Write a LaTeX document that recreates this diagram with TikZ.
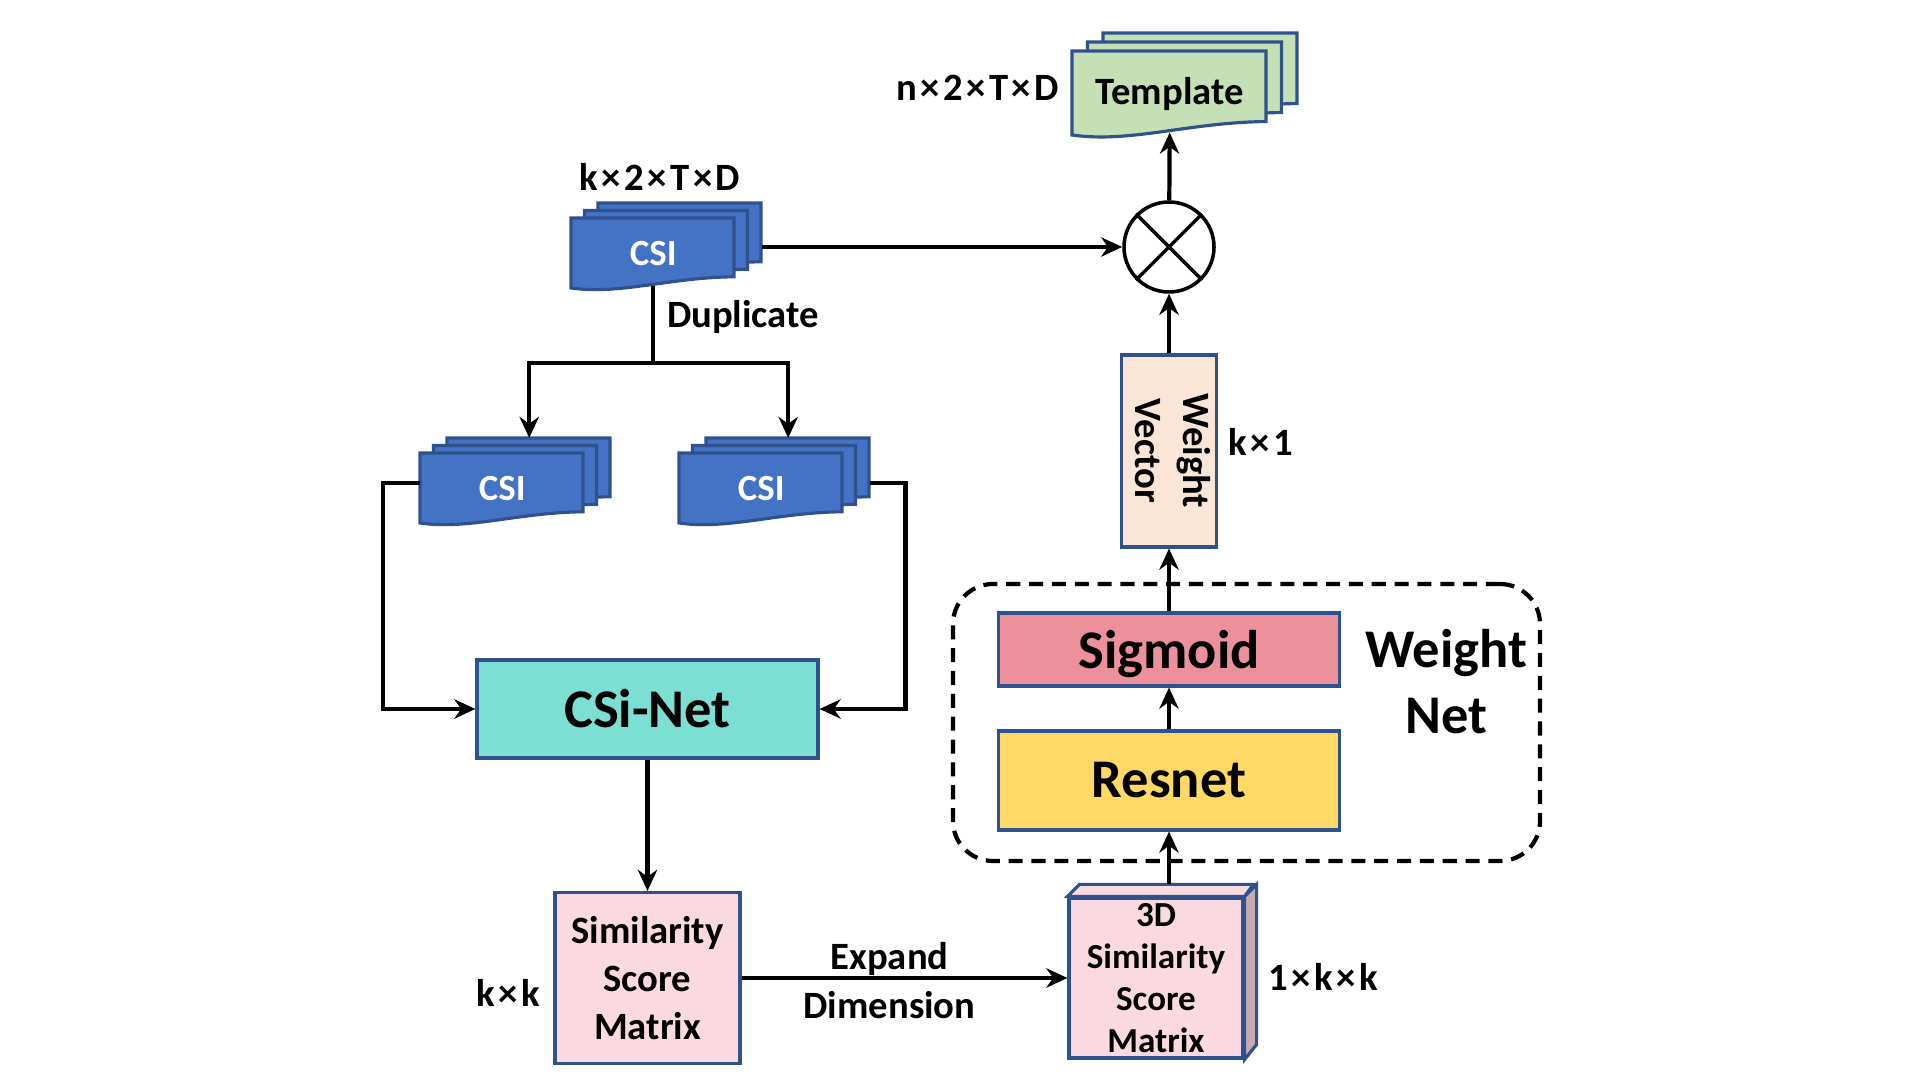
\documentclass[tikz,border=0pt]{standalone}
\usepackage{fontspec}
\setmainfont{Carlito}
\definecolor{CsiBlue}{RGB}{68,114,196}
\definecolor{EdgeBlue}{RGB}{47,82,143}
\definecolor{TplGreen}{RGB}{197,224,180}
\definecolor{NetCyan}{RGB}{124,223,212}
\definecolor{SimPink}{RGB}{250,218,224}
\definecolor{SimSide}{RGB}{202,170,178}
\definecolor{SigRose}{RGB}{236,145,155}
\definecolor{ResYellow}{RGB}{255,217,102}
\definecolor{VecPeach}{RGB}{251,229,214}
\usetikzlibrary{arrows.meta,positioning,calc}

\newcommand{\tagfont}{\fontsize{11}{13.6}\selectfont\bfseries}
\newcommand{\boxfont}{\fontsize{15.5}{19}\selectfont\bfseries}
\newcommand{\tms}{\kern0.09em×\kern0.09em}

% three stacked sheets: name, front top-left, width, height, style, step x, step y, text
\newcommand{\docstack}[8]{%
  \foreach \k in {2,1,0}{%
    \draw[#5, shift={(#2)}, xshift=\k*#6cm, yshift=\k*#7cm]
      (0,0) -- (#3,0) -- (#3,-0.84*#4)
      .. controls (0.6*#3,-0.85*#4) and (0.3*#3,-1.1*#4) .. (0,-#4) -- cycle;
    \node[inner sep=0, minimum width=#3cm, minimum height=#4cm, anchor=north west,
      shift={(#2)}, xshift=\k*#6cm, yshift=\k*#7cm] (#1-\k) at (0,0) {};
  }%
  \node[#5, draw=none, fill=none, inner sep=0] (#1) at (#1-0.center) {#8};
  \coordinate (#1-bot) at ([yshift=0.045*#4cm]#1-0.south);
}

\begin{document}
\begin{tikzpicture}[
    csisheet/.style={draw=EdgeBlue, fill=CsiBlue, line width=0.9pt, text=white, font=\fontsize{10.5}{12}\selectfont\bfseries},
    tplsheet/.style={draw=EdgeBlue, fill=TplGreen, line width=0.9pt, font=\fontsize{11}{13}\selectfont\bfseries},
    block/.style={draw=EdgeBlue, line width=0.9pt, inner sep=0, align=center},
    link/.style={line width=1.2pt},
    flow/.style={link, -{Stealth[length=6pt,width=5.5pt]}},
    tag/.style={font=\tagfont, inner sep=0}]
  \useasboundingbox (0,0) rectangle (19.2,10.8);

  % sheets
  \docstack{tpl}{10.72,10.29}{1.94}{0.84}{tplsheet}{0.155}{0.09}{Template}
  \docstack{csitop}{5.71,8.62}{1.63}{0.70}{csisheet}{0.135}{0.075}{CSI}
  \docstack{csileft}{4.20,6.27}{1.63}{0.70}{csisheet}{0.135}{0.075}{CSI}
  \docstack{csiright}{6.79,6.27}{1.63}{0.70}{csisheet}{0.135}{0.075}{CSI}
  \node[tag] (tpldim) at (9.775,9.92) {n\tms2\tms T\tms D};
  \node[tag] (csidim) at (6.60,9.03) {k\tms2\tms T\tms D};

  % similarity branch
  \node[block, fill=NetCyan, font=\boxfont, minimum width=3.41cm, minimum height=0.98cm] (csinet) at (6.475,3.71) {CSi-Net};
  \node[block, fill=SimPink, font=\tagfont, minimum width=1.85cm, minimum height=1.71cm] (ssm) at (6.475,1.02) {Similarity\\Score\\Matrix};
  \node[tag] (ssmdim) at (5.08,0.87) {k\tms k};

  % 3D matrix
  \node[block, fill=SimPink, font=\fontsize{10}{12}\selectfont\bfseries, minimum width=1.74cm, minimum height=1.60cm] (cube) at (11.56,1.02) {3D\\Similarity\\Score\\Matrix};
  \draw[block, fill=SimPink] (cube.north west) -- ++(0.12,0.12) -- ++(1.74,0) -- (cube.north east) -- cycle;
  \draw[block, fill=SimSide] (cube.north east) -- ++(0.12,0.12) -- ++(0,-1.60) -- (cube.south east) -- cycle;
  \coordinate (cubetop) at ([yshift=0.12cm]cube.north);
  \node[tag] (cubedim) at (13.235,1.03) {1\tms k\tms k};

  % weight net
  \node[draw, line width=1.2pt, dash pattern=on 4pt off 2.5pt, rounded corners=0.4cm, minimum width=5.87cm, minimum height=2.77cm] (wnet) at (12.465,3.575) {};
  \node[block, fill=ResYellow, font=\boxfont, minimum width=3.41cm, minimum height=0.99cm] (resnet) at (11.69,2.995) {Resnet};
  \node[block, fill=SigRose, font=\boxfont, text depth=0pt, minimum width=3.41cm, minimum height=0.73cm] (sigmoid) at (11.69,4.305) {Sigmoid};
  \node[font=\boxfont, align=center, inner sep=0] (wnlabel) at (14.46,3.985) {Weight\\Net};
  \node[block, fill=VecPeach, font=\tagfont, minimum width=0.92cm, minimum height=1.92cm] (wvec) at (11.69,6.29) {\rotatebox{-90}{\begin{tabular}{@{}c@{}}Weight\\Vector\end{tabular}}};
  \node[tag] (vecdim) at (12.61,6.38) {k\tms1};
  \node[circle, draw, line width=1pt, minimum size=0.9cm, inner sep=0] (mult) at (11.69,8.33) {};
  \draw[line width=1pt] (mult.north west) -- (mult.south east) (mult.north east) -- (mult.south west);

  % connectors
  \coordinate (split) at ([yshift=-0.77cm]csitop-bot);
  \draw[link] (csitop-bot) -- node[right, pos=0.4, font=\tagfont] {Duplicate} (split);
  \draw[flow] (split) -| (csileft-2.north);
  \draw[flow] (split) -| (csiright-2.north);
  \draw[flow] (mult.west -| csitop-2.east) -- (mult.west);
  \draw[flow] ([yshift=0.06cm]csileft-0.west) -- ++(-0.37,0) |- (csinet.west);
  \draw[flow] ([yshift=-0.09cm]csiright-2.east) -- ++(0.35,0) |- (csinet.east);
  \draw[flow] (csinet) -- (ssm);
  \draw[flow] (ssm) -- node[tag, above, pos=0.454] {Expand} node[below, pos=0.454, font=\tagfont] {Dimension} (cube);
  \draw[flow] (resnet.south |- cubetop) -- (resnet);
  \draw[flow] (resnet) -- (sigmoid);
  \draw[flow] (sigmoid) -- (wvec);
  \draw[flow] (wvec) -- (mult);
  \draw[flow] (mult) -- (tpl-bot);
\end{tikzpicture}
\end{document}
